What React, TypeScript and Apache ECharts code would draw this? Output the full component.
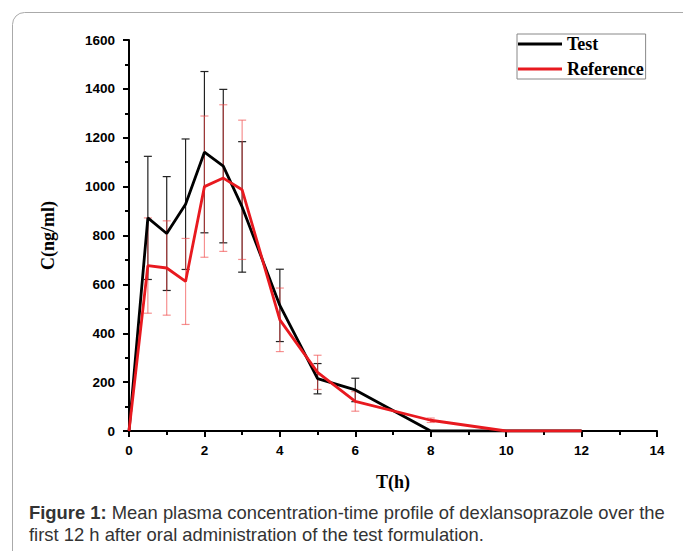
import React, { useEffect, useRef } from "react";
import * as echarts from "echarts";

const times = [0, 0.5, 1, 1.5, 2, 2.5, 3, 4, 5, 6, 8, 10, 12];
const testMean = [0, 872, 808, 928, 1141, 1084, 917, 514, 214, 168, 0, 0, 0];
const testSD = [0, 252, 233, 267, 330, 314, 267, 148, 62, 48, 0, 0, 0];
const refMean = [0, 677, 667, 612, 1000, 1035, 987, 455, 240, 121, 44, 0, 0];
const refSD = [0, 195, 193, 176, 289, 300, 285, 130, 70, 40, 9, 0, 0];
const xTicks = [0, 2, 4, 6, 8, 10, 12, 14];
const yTicks = [0, 200, 400, 600, 800, 1000, 1200, 1400, 1600];
const seriesNames = ["Test", "Reference"];
const captionBold = "Figure 1:";
const captionRest1 = " Mean plasma concentration-time profile of dexlansoprazole over the";
const captionLine2 = "first 12 h after oral administration of the test formulation.";

const SERIF = '"Liberation Serif", "Times New Roman", serif';
const SANS = '"Liberation Sans", Arial, sans-serif';

function errorBar(color: string, width: number) {
  return (params: any, api: any) => {
    const x = api.value(0);
    const y = api.value(1);
    const sd = api.value(2);
    if (!sd) return null;
    const hi = api.coord([x, y + sd]);
    const lo = api.coord([x, y - sd]);
    const cap = 4;
    const style = { stroke: color, lineWidth: width };
    return {
      type: "group",
      children: [
        { type: "line", shape: { x1: hi[0], y1: hi[1], x2: lo[0], y2: lo[1] }, style },
        { type: "line", shape: { x1: hi[0] - cap, y1: hi[1], x2: hi[0] + cap, y2: hi[1] }, style },
        { type: "line", shape: { x1: lo[0] - cap, y1: lo[1], x2: lo[0] + cap, y2: lo[1] }, style },
      ],
    };
  };
}

export default function App() {
  const ref = useRef<HTMLDivElement>(null);
  useEffect(() => {
    if (!ref.current) return;
    const chart = echarts.init(ref.current, null, { renderer: "svg" });
    const testLine = times.map((t, i) => [t, testMean[i]]);
    const refLine = times.map((t, i) => [t, refMean[i]]);
    const testErr = times.map((t, i) => [t, testMean[i], testSD[i]]);
    const refErr = times.map((t, i) => [t, refMean[i], refSD[i]]);
    const axisLabel = {
      color: "#000",
      fontFamily: SANS,
      fontWeight: "bold",
      fontSize: 13.5,
      formatter: (v: number) => String(v),
    };
    chart.setOption({
      animation: false,
      backgroundColor: "#fff",
      grid: { left: 129, top: 40, width: 528, height: 391, containLabel: false },
      xAxis: {
        type: "value",
        min: xTicks[0],
        max: xTicks[xTicks.length - 1],
        interval: 2,
        name: "T(h)",
        nameLocation: "middle",
        nameGap: 42,
        nameTextStyle: { fontFamily: SERIF, fontWeight: "bold", fontSize: 18, color: "#000" },
        axisLine: { lineStyle: { color: "#000", width: 2 } },
        axisTick: { show: true, length: 6, lineStyle: { color: "#000", width: 2 } },
        minorTick: { show: true, splitNumber: 2, length: 4, lineStyle: { color: "#000", width: 2 } },
        axisLabel: { ...axisLabel, margin: 12 },
        splitLine: { show: false },
        minorSplitLine: { show: false },
      },
      yAxis: {
        type: "value",
        min: yTicks[0],
        max: yTicks[yTicks.length - 1],
        interval: 200,
        name: "C(ng/ml)",
        nameLocation: "middle",
        nameGap: 72,
        nameTextStyle: { fontFamily: SERIF, fontWeight: "bold", fontSize: 18, color: "#000" },
        axisLine: { show: true, lineStyle: { color: "#000", width: 2 } },
        axisTick: { show: true, length: 6, lineStyle: { color: "#000", width: 2 } },
        minorTick: { show: true, splitNumber: 2, length: 4, lineStyle: { color: "#000", width: 2 } },
        axisLabel: { ...axisLabel, margin: 14 },
        splitLine: { show: false },
        minorSplitLine: { show: false },
      },
      legend: {
        orient: "vertical",
        left: 517,
        top: 34,
        padding: [1, 2, 1, 1],
        itemGap: 7,
        itemWidth: 44,
        itemHeight: 3,
        icon: "rect",
        borderColor: "#888",
        borderWidth: 1,
        data: seriesNames,
        textStyle: { fontFamily: SERIF, fontWeight: "bold", fontSize: 18, color: "#000", lineHeight: 18, padding: [0, 0, 0, 0] },
      },
      series: [
        {
          type: "custom",
          name: "testErr",
          renderItem: errorBar("#222", 1.2),
          data: testErr,
          z: 1,
          silent: true,
        },
        {
          type: "custom",
          name: "refErr",
          renderItem: errorBar("rgba(240,70,70,0.6)", 1.2),
          data: refErr,
          z: 1,
          silent: true,
        },
        {
          type: "line",
          name: seriesNames[0],
          data: testLine,
          symbol: "none",
          lineStyle: { color: "#000", width: 2.8 },
          itemStyle: { color: "#000" },
          z: 3,
        },
        {
          type: "line",
          name: seriesNames[1],
          data: refLine,
          symbol: "none",
          lineStyle: { color: "#e8191f", width: 2.8 },
          itemStyle: { color: "#e8191f" },
          z: 4,
        },
      ],
      graphic: [
        {
          type: "rect",
          shape: { x: 12.5, y: 12.5, width: 720, height: 600, r: 12 },
          style: { fill: "none", stroke: "#aaa", lineWidth: 1 },
          silent: true,
        },
        {
          type: "text",
          left: 29,
          top: 501,
          style: {
            text: "{b|" + captionBold + "}" + captionRest1 + "\n" + captionLine2,
            fontFamily: SANS,
            fontSize: 18.4,
            fill: "#333",
            lineHeight: 22,
            rich: {
              b: { fontFamily: SANS, fontSize: 18.4, fontWeight: "bold", fill: "#333", lineHeight: 22 },
            },
          },
        },
      ],
    });
    return () => chart.dispose();
  }, []);
  return (
    <div
      ref={ref}
      style={{ position: "absolute", left: 0, top: 0, width: 683, height: 551 }}
    />
  );
}
